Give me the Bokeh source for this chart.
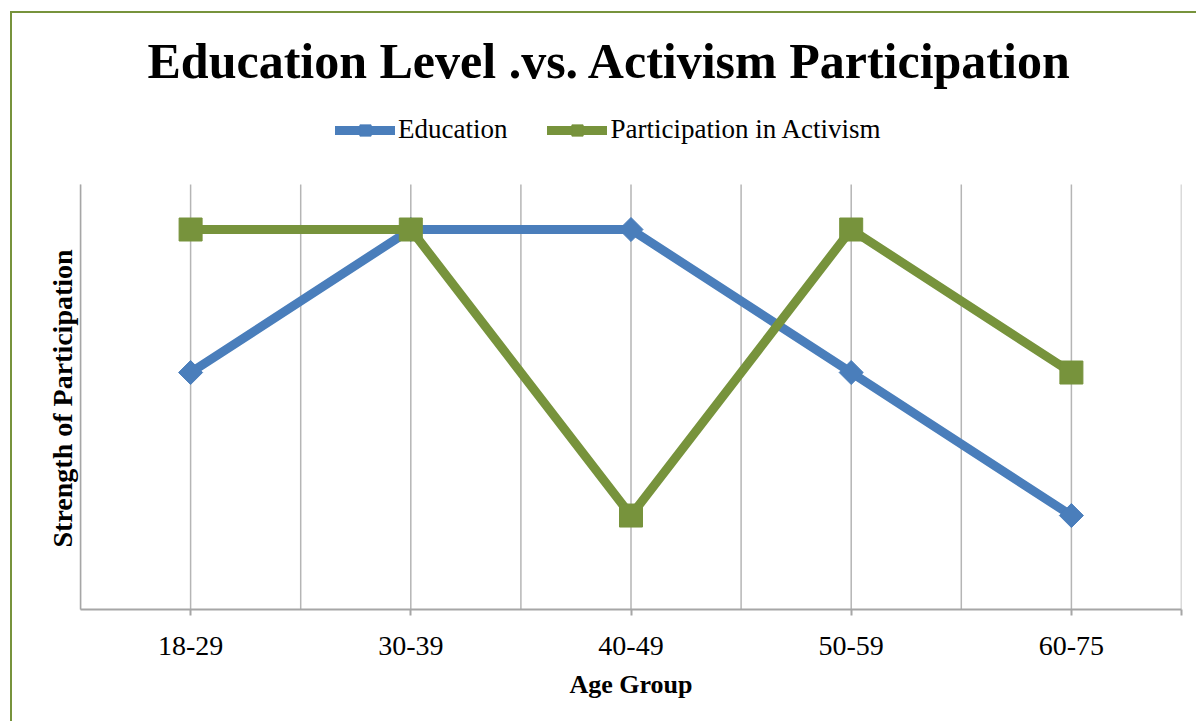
import numpy as np
from bokeh.plotting import figure
from bokeh.models import (Range1d, FixedTicker, Legend, LegendItem, Title)
from bokeh.embed import file_html
from bokeh.resources import INLINE

# ---- data ----
age_groups = ["18-29", "30-39", "40-49", "50-59", "60-75"]
education = [2, 3, 3, 2, 1]
participation = [3, 3, 1, 3, 2]

title_text = "Education Level .vs. Activism Participation"
x_title = "Age Group"
y_title = "Strength of Participation"

BLUE = "#4A7EBB"
GREEN = "#77933C"
GRID = "#B5B5B5"
FONT = "Liberation Serif"

n = len(age_groups)
xs = np.arange(n) + 0.5
Y_MIN, Y_MAX = 0.343, 3.315     # visible plot area of the value axis
Y_TOP = 3.902                   # extra room above the plot area for the legend

BL, BT = 12, 13  # offset of the chart's outer border
p = figure(width=1198 - BL, height=723 - BT, output_backend="svg", toolbar_location=None,
           x_range=Range1d(0, n), y_range=Range1d(Y_MIN, Y_TOP),
           min_border_left=80 - BL, min_border_right=17, min_border_top=100 - BT, min_border_bottom=114)

p.styles = {"transform": f"translate({BL}px, {BT}px)",
            "box-shadow": f"-2px -2px 0 0 {GREEN}"}

p.outline_line_color = None
p.background_fill_color = "white"
p.border_fill_color = "white"

# title
p.title.text = title_text
p.title.text_font = FONT
p.title.text_font_style = "bold"
p.title.text_font_size = "50px"
p.title.text_color = "black"
p.title.align = "left"
p.title.offset = 67
p.title.standoff = 24

# vertical gridlines at category centres and boundaries, limited to the plot area
p.grid.visible = False
gx = np.arange(0, n + 0.25, 0.5)
p.segment(x0=gx, y0=[Y_MIN] * len(gx), x1=gx, y1=[Y_MAX] * len(gx),
          line_color=GRID, line_width=1.5)

# x axis
xa = p.xaxis[0]
xa.ticker = FixedTicker(ticks=list(xs) + [float(n)])
overrides = {float(x): lab for x, lab in zip(xs, age_groups)}
overrides[float(n)] = ""
xa.major_label_overrides = overrides
xa.axis_line_color = "#A6A6A6"
xa.axis_line_width = 2
xa.major_tick_line_color = "#A6A6A6"
xa.major_tick_line_width = 2
xa.major_tick_in = 0
xa.major_tick_out = 6
xa.minor_tick_line_color = None
xa.major_label_text_font = FONT
xa.major_label_text_font_size = "28px"
xa.major_label_text_color = "black"
xa.major_label_standoff = 21
xa.axis_label = x_title
xa.axis_label_text_font = FONT
xa.axis_label_text_font_style = "bold"
xa.axis_label_text_font_size = "26px"
xa.axis_label_text_color = "black"
xa.axis_label_standoff = 12

# y axis (line only)
ya = p.yaxis[0]
ya.bounds = (Y_MIN, Y_MAX)
ya.ticker = FixedTicker(ticks=[])
ya.axis_line_color = "#A6A6A6"
ya.axis_line_width = 1.5
ya.major_tick_line_color = None
ya.minor_tick_line_color = None
ya.major_tick_out = 0
ya.major_tick_in = 0
ya.major_label_standoff = 0
ya.major_label_text_font_size = "0px"

# y axis title, placed along the plot area (not the legend room)
ytitle = Title(text=y_title, align="left", offset=62, standoff=6,
               text_font=FONT, text_font_style="bold", text_font_size="28px", text_color="black")
p.add_layout(ytitle, "left")

# series
l1 = p.line(xs, education, line_color=BLUE, line_width=9, line_cap="round", line_join="round")
m1 = p.scatter(xs, education, marker="square", angle=np.pi / 4, size=17, fill_color=BLUE, line_color=BLUE)
l2 = p.line(xs, participation, line_color=GREEN, line_width=9, line_cap="round", line_join="round")
m2 = p.scatter(xs, participation, marker="square", size=23, fill_color=GREEN, line_color=GREEN)

legend = Legend(items=[LegendItem(label="Education", renderers=[l1, m1]),
                       LegendItem(label="Participation in Activism", renderers=[l2, m2])],
                orientation="horizontal", location=(255, 464),
                glyph_width=60, glyph_height=28, label_height=28, label_standoff=3, spacing=40,
                padding=0, margin=0, border_line_color=None, background_fill_alpha=0,
                label_text_font=FONT, label_text_font_size="27px", label_text_color="black")
p.add_layout(legend, "center")

open("out.html", "w").write(file_html(p, INLINE))
